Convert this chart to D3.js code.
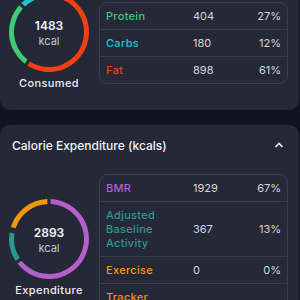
<!DOCTYPE html>
<html>
<head>
<meta charset="utf-8">
<script src="https://cdn.jsdelivr.net/npm/d3@7"></script>
<style>
  html, body { margin: 0; padding: 0; background: #12131f; }
  svg { display: block; font-family: Inter, "Noto Sans", sans-serif; }
</style>
</head>
<body>
<svg id="svg"></svg>
<script>
var width = 300, height = 300;

// consumed
var consumedLabels = ["Protein", "Carbs", "Fat"];
var consumedValues = [404, 180, 898];
var consumedPercents = ["27%", "12%", "61%"];
var consumedColors = ["#3fcb74", "#22c3d6", "#ee4010"];
var consumedRingOrder = ["Fat", "Protein", "Carbs"];
var consumedTotal = 1483;

// expenditure (tracker row wraps below the visible area)
var expLabels = [["BMR"], ["Adjusted", "Baseline", "Activity"], ["Exercise"], ["Tracker", ""]];
var expValues = [1929, 367, 0, 597];
var expPercents = ["67%", "13%", "0%", "21%"];
var expColors = ["#b45fca", "#2a9890", "#f0960f", "#f0960f"];
var expTotal = 2893;

var svg = d3.select("#svg")
	.attr("width", width)
	.attr("height", height);

var card = "#252837", line = "#3a3d4f";

// cards
svg.append("rect").attr("x", 0).attr("y", -30).attr("width", 299).attr("height", 140)
	.attr("rx", 10).attr("fill", card);
svg.append("rect").attr("x", 0).attr("y", 125).attr("width", 299).attr("height", 220)
	.attr("rx", 10).attr("fill", card);

svg.append("text").attr("x", 12).attr("y", 150)
	.attr("fill", "#f2f3f7").attr("font-size", 12).attr("font-weight", 500)
	.text("Calorie Expenditure (kcals)");
svg.append("path").attr("d", "M275.5,147 L279,143.5 L282.5,147")
	.attr("fill", "none").attr("stroke", "#e8e9ee").attr("stroke-width", 1.6);

var arc = d3.arc().innerRadius(35).outerRadius(40);

function donut(cx, cy, labels, values, colors, total, caption)
{
	var pie = d3.pie().sort(null).padAngle(0.06).value(function(d) { return d.v; });
	var g = svg.append("g").attr("transform", "translate(" + cx + "," + cy + ")");
	g.selectAll("path")
		.data(pie(labels.map(function(l, i) { return {l: l, v: values[i], c: colors[i]}; })))
		.enter().append("path")
		.attr("d", arc)
		.attr("fill", function(d) { return d.data.c; });
	g.append("text").attr("text-anchor", "middle").attr("y", -2)
		.attr("fill", "#f4f5f8").attr("font-size", 12).attr("font-weight", 600)
		.text(total);
	g.append("text").attr("text-anchor", "middle").attr("y", 12.5)
		.attr("fill", "#c6c8d2").attr("font-size", 11)
		.text("kcal");
	g.append("text").attr("text-anchor", "middle").attr("y", 54.5)
		.attr("fill", "#eceef3").attr("font-size", 11).attr("font-weight", 500)
		.attr("letter-spacing", 0.4)
		.text(caption);
}

function table(x, y, labels, values, percents, colors)
{
	var lineH = 14, pad = 13.5;
	var heights = labels.map(function(l) { return pad * 2 + (l.length - 1) * lineH; });
	var tops = [0].concat(Array.from(d3.cumsum(heights)));
	var total = tops[tops.length - 1];
	var g = svg.append("g").attr("transform", "translate(" + x + "," + y + ")");
	g.append("rect").attr("x", 0.5).attr("y", 0.5).attr("width", 188).attr("height", total)
		.attr("rx", 8).attr("fill", "none").attr("stroke", line);
	var row = g.selectAll(".row").data(labels).enter().append("g")
		.attr("transform", function(d, i) { return "translate(0," + tops[i] + ")"; });
	row.filter(function(d, i) { return i > 0; }).append("line")
		.attr("x1", 1).attr("x2", 188).attr("y1", 0.5).attr("y2", 0.5).attr("stroke", line);
	row.each(function(d, i) {
		var r = d3.select(this), mid = heights[i] / 2 + 4;
		d.forEach(function(t, j) {
			r.append("text").attr("x", 7).attr("y", mid + (j - (d.length - 1) / 2) * lineH)
				.attr("fill", colors[i]).attr("font-size", 11).attr("font-weight", 500)
				.attr("letter-spacing", 0.3).text(t);
		});
		r.append("text").attr("x", 94).attr("y", mid)
			.attr("fill", "#d4d6de").attr("font-size", 11).text(values[i]);
		r.append("text").attr("x", 182).attr("y", mid).attr("text-anchor", "end")
			.attr("fill", "#d4d6de").attr("font-size", 11).text(percents[i]);
	});
}

var ringIdx = consumedRingOrder.map(function(l) { return consumedLabels.indexOf(l); });
donut(49, 32,
	ringIdx.map(function(i) { return consumedLabels[i]; }),
	ringIdx.map(function(i) { return consumedValues[i]; }),
	ringIdx.map(function(i) { return consumedColors[i]; }),
	consumedTotal, "Consumed");
table(99, 2, consumedLabels.map(function(l) { return [l]; }), consumedValues, consumedPercents, consumedColors);

donut(49, 239, expLabels.map(function(l) { return l.join(" "); }), expValues, expColors, expTotal, "Expenditure");
table(99, 174, expLabels, expValues, expPercents, expColors);
</script>
</body>
</html>
